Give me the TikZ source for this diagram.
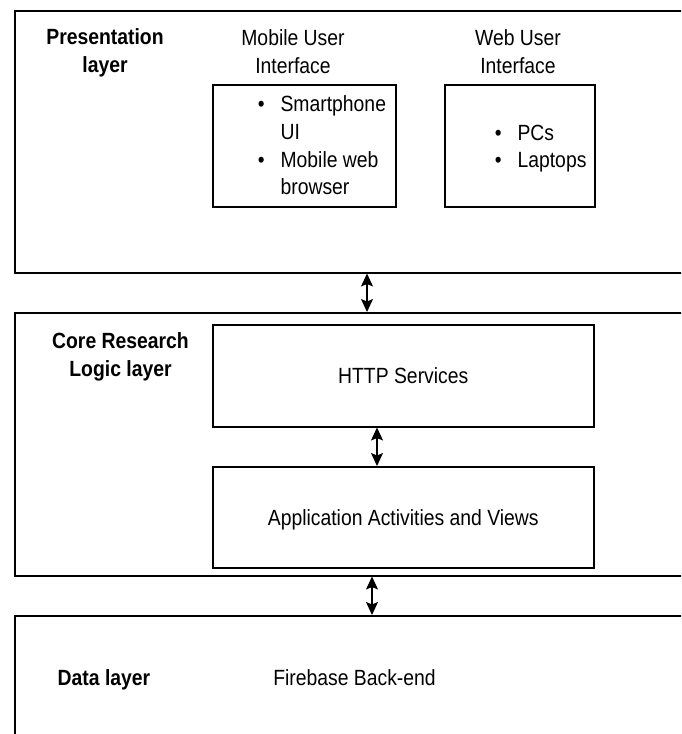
\documentclass[tikz,border=0pt]{standalone}
\usepackage{fontspec}
\setmainfont{Liberation Sans}[FakeStretch=0.88]
\usetikzlibrary{arrows.meta,positioning}

\begin{document}
\begin{tikzpicture}[x=1pt, y=-1pt,
    every node/.style={font=\fontsize{22}{27.7}\selectfont, inner sep=0pt},
    layer/.style={draw, line width=1.5pt, rectangle, anchor=north west, minimum width=700pt},
    block/.style={draw, line width=1.5pt, rectangle, anchor=north west, text depth=0pt},
    title/.style={font=\fontsize{22}{27.7}\selectfont\bfseries, align=center, anchor=base},
    label/.style={align=center, anchor=base},
    link/.style={{Stealth[length=13pt,width=12pt,inset=2.5pt]}-{Stealth[length=13pt,width=12pt,inset=2.5pt]}, line width=1.2pt}]
    \useasboundingbox (0,0) rectangle (681,734);
    \clip (0,0) rectangle (681,734);

    % the three layers
    \node[layer, minimum height=262pt] (pres) at (14,10) {};
    \node[layer, minimum height=263pt] (core) at (14,312) {};
    \node[layer, minimum height=200pt] (data) at (14,615) {};

    % base is the last line of each label
    \node[title] (prestitle) at (105,72) {Presentation\\layer};
    \node[title] (coretitle) at (120.5,376) {Core Research\\Logic layer};
    \node[title] (datatitle) at (104,685) {Data layer};

    % presentation layer
    \node[label] (moblabel) at (293,73) {Mobile User\\Interface};
    \node[label] (weblabel) at (518,73) {Web User\\Interface};
    \node[block, minimum width=183pt, minimum height=122pt] (mob) at (212,84) {};
    \node[block, minimum width=150pt, minimum height=122pt] (web) at (444,84) {};
    \node[anchor=base west] (moblist) at (257.6,111.7) {%
        \begin{tabular}[t]{@{}l@{\hspace{16pt}}l@{}}
            \textbullet & Smartphone\\ & UI\\
            \textbullet & Mobile web\\ & browser
        \end{tabular}};
    \node[anchor=base west] (weblist) at (494.6,140) {%
        \begin{tabular}[t]{@{}l@{\hspace{16pt}}l@{}}
            \textbullet & PCs\\
            \textbullet & Laptops
        \end{tabular}};

    % core layer
    \node[block, minimum width=381pt, minimum height=102pt] (http) at (212,324) {HTTP Services};
    \node[block, minimum width=381pt, minimum height=101pt] (app) at (212,466) {Application Activities and Views};

    % data layer
    \node[anchor=base] (firebase) at (354.5,685) {Firebase Back-end};

    % links
    \coordinate (up) at (367,0);
    \coordinate (mid) at (377,0);
    \coordinate (down) at (372,0);
    \draw[link] (pres.south -| up) -- (core.north -| up);
    \draw[link] (http.south -| mid) -- (app.north -| mid);
    \draw[link] (core.south -| down) -- (data.north -| down);
\end{tikzpicture}
\end{document}
